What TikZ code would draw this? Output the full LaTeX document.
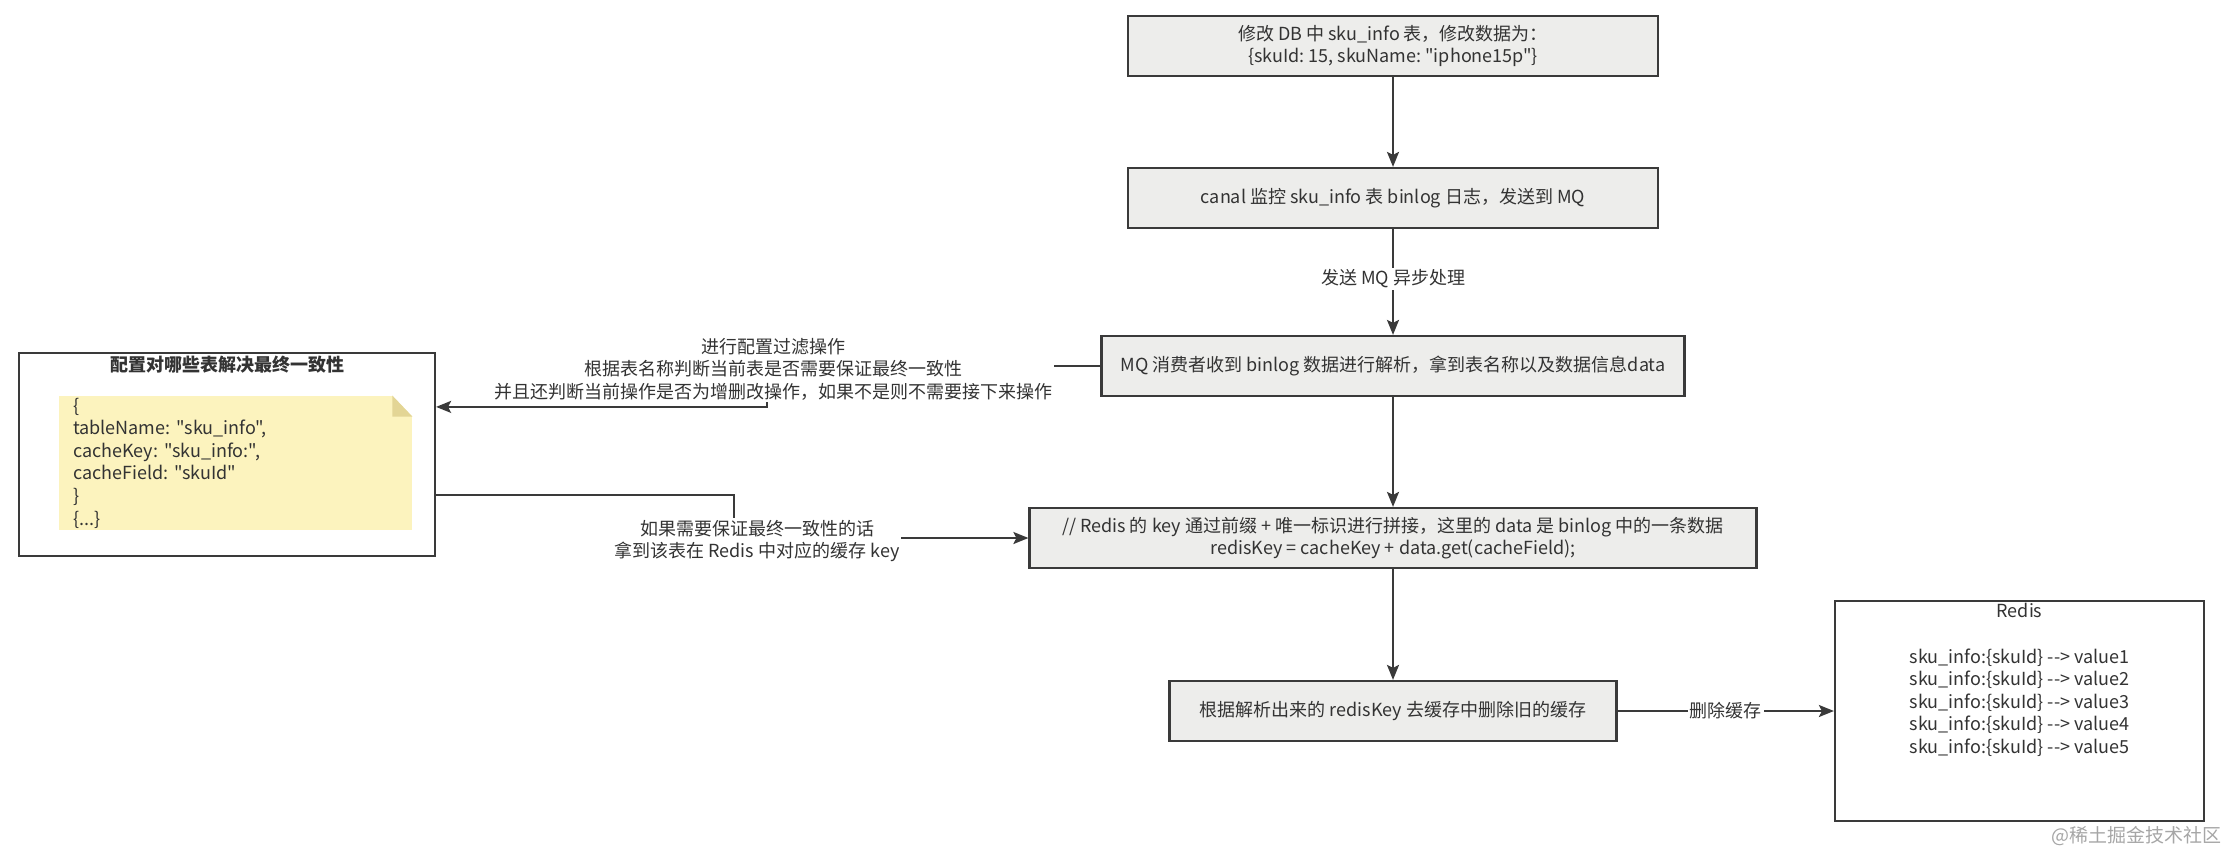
\documentclass[tikz,border=0pt]{standalone}
\usepackage{fontspec}
\newfontfamily\cjk{Noto Sans CJK SC}
\usepackage{xcolor}
\usetikzlibrary{arrows.meta, calc}
\definecolor{boxfill}{HTML}{EDEDEB}
\definecolor{boxline}{HTML}{3A3A3A}
\definecolor{txt}{HTML}{333333}
\definecolor{notefill}{HTML}{FCF3BE}
\definecolor{notefold}{HTML}{E3D595}

\begin{document}
\begin{tikzpicture}[x=0.5pt, y=-0.5pt, line cap=round,
		font=\cjk\fontsize{9pt}{11.3pt}\selectfont\frenchspacing, text=txt,
		stepbox/.style={draw=boxline, fill=boxfill, line width=1.1pt, align=center, inner sep=0pt, minimum height=30pt},
		plainbox/.style={draw=boxline, fill=white, line width=1.1pt, inner sep=0pt},
		flow/.style={draw=boxline, line width=1pt, -{Stealth[length=7.5pt, width=6pt, inset=1.5pt]}},
		lbl/.style={fill=white, align=center, inner sep=1pt}
	]

	\useasboundingbox (0,0) rectangle (2231,847);

	% main chain
	\node[stepbox, minimum width=265pt] (modify) at (1393,46) {修改 DB 中 sku\_info 表，修改数据为：\\ \{skuId: 15, skuName: "iphone15p"\}};
	\node[stepbox, minimum width=265pt] (canal) at (1393,198) {canal 监控 sku\_info 表 binlog 日志，发送到 MQ};
	\node[stepbox, minimum width=291.5pt] (consume) at (1393,366) {MQ 消费者收到 binlog 数据进行解析，拿到表名称以及数据信息data};
	\node[stepbox, minimum width=363.5pt] (rediskey) at (1393,538) {// Redis 的 key 通过前缀 + 唯一标识进行拼接，这里的 data 是 binlog 中的一条数据\\redisKey = cacheKey + data.get(cacheField);};
	\node[stepbox, minimum width=223.5pt] (delete) at (1393,711) {根据解析出来的 redisKey 去缓存中删除旧的缓存};

	% config container
	\node[plainbox, minimum width=208pt, minimum height=101.5pt] (config) at (227,454.5) {};
	\node (cfgtitle) at (227,365) {\bfseries 配置对哪些表解决最终一致性};
	\node[fill=notefill, minimum width=176.5pt, minimum height=67pt, text width=162.5pt, inner xsep=7pt, inner ysep=0pt, align=left] (cfgnote) at (235.5,463)
		{\{\\tableName: "sku\_info",\\cacheKey: "sku\_info:",\\cacheField: "skuId"\\\}\\\{...\}};
	\fill[white] ($(cfgnote.north east)+(-20,0)$) -- (cfgnote.north east) -- ($(cfgnote.north east)+(0,21)$) -- cycle;
	\fill[notefold] ($(cfgnote.north east)+(-20,0)$) -- ($(cfgnote.north east)+(0,21)$) -- ($(cfgnote.north east)+(-20,21)$) -- cycle;

	% redis
	\node[plainbox, minimum width=184.5pt, minimum height=110pt] (redis) at (2019.5,711) {};
	\node[align=center] (rediskeys) at (2019.5,680) {Redis\\[11.3pt]sku\_info:\{skuId\} --> value1\\sku\_info:\{skuId\} --> value2\\sku\_info:\{skuId\} --> value3\\sku\_info:\{skuId\} --> value4\\sku\_info:\{skuId\} --> value5};

	% connectors
	\draw[flow] (modify) -- (canal);
	\draw[flow] (canal) -- (consume) node[lbl, pos=0.47] (async) {发送 MQ 异步处理};
	\draw[flow] (consume) -- (rediskey);
	\draw[flow] (rediskey) -- (delete);
	\draw[flow] (delete) -- (redis) node[lbl, midway] (remove) {删除缓存};

	\draw[flow] (consume.west) -- ++(-333,0) |- ($(config.north east)+(0,55)$);
	\node[lbl] (filter) at (773,369) {进行配置过滤操作\\根据表名称判断当前表是否需要保证最终一致性\\并且还判断当前操作是否为增删改操作，如果不是则不需要接下来操作};

	\draw[flow] ($(config.north east)+(0,143)$) -- ++(298,0) |- (rediskey.west);
	\node[lbl] (cachekey) at (757,541) {如果需要保证最终一致性的话\\拿到该表在 Redis 中对应的缓存 key};

	\node[text=black!35, font=\cjk\fontsize{9.5pt}{11pt}\selectfont, anchor=east] (mark) at (2229,836) {@稀土掘金技术社区};

\end{tikzpicture}
\end{document}
